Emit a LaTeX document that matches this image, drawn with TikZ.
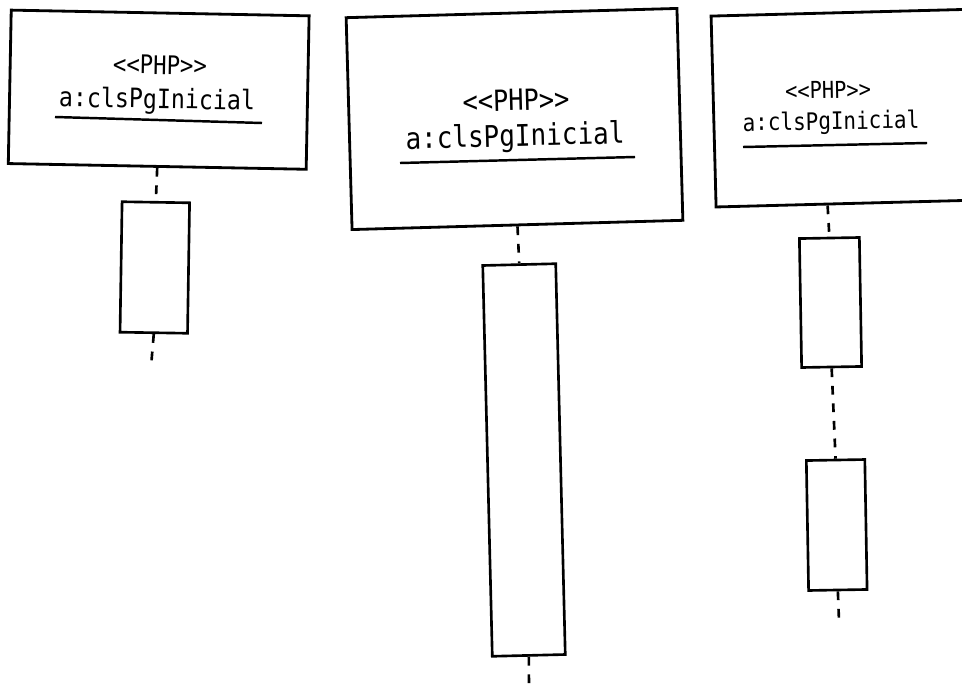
\documentclass[tikz,border=0pt]{standalone}
\usepackage{fontspec}
\newfontfamily\umlfont[FakeStretch=0.87]{DejaVu Sans Mono}
\usetikzlibrary{calc}
\tikzset{
  objbox/.style={draw, line width=1.6pt, inner sep=0pt},
  actbox/.style={draw, line width=1.5pt, inner sep=0pt},
  lifeline/.style={line width=1.5pt, dash pattern=on 5pt off 5pt},
  stereo/.style={inner sep=0pt, font=\umlfont},
}
\begin{document}
\begin{tikzpicture}[x=0.02cm,y=-0.02cm]
        \useasboundingbox (0,0) rectangle (962,686);
        \clip (0,0) rectangle (962,686);
        % first object
        \node[objbox, minimum width=5.96cm, minimum height=3.07cm, rotate=-1.1] (obj1) at (158.7,89.7) {};
        \node[stereo, rotate=-1, font=\umlfont\fontsize{14.6}{16}\selectfont] (st1) at (160,65) {<<PHP>>};
        \node[stereo, rotate=-1, font=\umlfont\fontsize{15.2}{17}\selectfont] (nm1) at (157,101) {a:clsPgInicial};
        \draw[line width=1.4pt] (55,117)--(262,123);
        \node[actbox, minimum width=1.35cm, minimum height=2.61cm, rotate=-0.9] (act1) at (154.8,267.5) {};
        \coordinate (end1) at (151,367);
        \draw[lifeline] (obj1.south)--(act1.north);
        \draw[lifeline] (act1.south)--(end1);
        % second object
        \node[objbox, minimum width=6.62cm, minimum height=4.24cm, rotate=1.6] (obj2) at (514.5,119) {};
        \node[stereo, rotate=1.5, font=\umlfont\fontsize{16.6}{18}\selectfont] (st2) at (516,100) {<<PHP>>};
        \node[stereo, rotate=1.5, font=\umlfont\fontsize{17}{19}\selectfont] (nm2) at (515,138) {a:clsPgInicial};
        \draw[line width=1.4pt] (400,163)--(635,157);
        \node[actbox, minimum width=1.46cm, minimum height=7.82cm, rotate=1.4] (act2) at (524,460) {};
        \coordinate (end2) at (529,692);
        \draw[lifeline] (obj2.south)--(act2.north);
        \draw[lifeline] (act2.south)--(end2);
        % third object, runs off to the right
        \node[objbox, minimum width=6cm, minimum height=3.82cm, rotate=1.5] (obj3) at (863.5,107.6) {};
        \node[stereo, rotate=1, font=\umlfont\fontsize{13.3}{15}\selectfont] (st3) at (828,90) {<<PHP>>};
        \node[stereo, rotate=1, font=\umlfont\fontsize{13.7}{15}\selectfont] (nm3) at (831,123) {a:clsPgInicial};
        \draw[line width=1.4pt] (743,147)--(927,143);
        \node[actbox, minimum width=1.2cm, minimum height=2.58cm, rotate=1] (act3a) at (830.5,302.5) {};
        \node[actbox, minimum width=1.17cm, minimum height=2.6cm, rotate=1] (act3b) at (836.7,525) {};
        \coordinate (top3) at ($(obj3.south west)!0.373!(obj3.south east)$);
        \coordinate (end3) at (839,621);
        \draw[lifeline] (top3)--(act3a.north);
        \draw[lifeline] (act3a.south)--(act3b.north);
        \draw[lifeline] (act3b.south)--(end3);
      \end{tikzpicture}
\end{document}
